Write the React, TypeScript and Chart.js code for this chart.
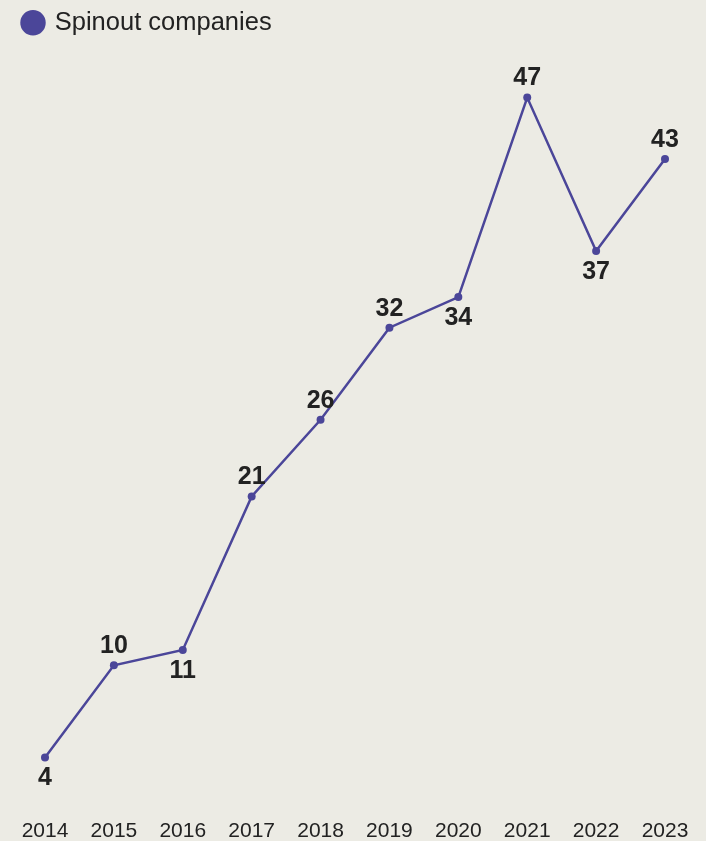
import React, { useEffect, useRef } from "react";
import { Chart, registerables } from "chart.js";

Chart.register(...registerables);

const years = ["2014", "2015", "2016", "2017", "2018", "2019", "2020", "2021", "2022", "2023"];
const spinouts = [4, 10, 11, 21, 26, 32, 34, 47, 37, 43];
// label placement: true = above the point, false = below
const labelAbove = [false, true, false, true, true, true, false, true, false, true];

const LINE_COLOR = "#4B4699";
const TEXT_COLOR = "#222222";
const BG = "#ECEBE4";
const FONT = "'Liberation Sans', Arial, sans-serif";

const valueLabels = {
  id: "valueLabels",
  afterDatasetsDraw(chart: any) {
    const ctx = chart.ctx;
    const meta = chart.getDatasetMeta(0);
    ctx.save();
    ctx.fillStyle = TEXT_COLOR;
    ctx.font = `bold 25px ${FONT}`;
    ctx.textAlign = "center";
    ctx.textBaseline = "middle";
    meta.data.forEach((pt: any, i: number) => {
      const v = chart.data.datasets[0].data[i];
      const dy = labelAbove[i] ? -19 : 21;
      ctx.fillText(String(v), pt.x, pt.y + dy);
    });
    ctx.restore();
  },
};

const legendSpacing = {
  id: "legendSpacing",
  beforeInit(chart: any) {
    const legend = chart.legend;
    if (!legend) return;
    const origFit = legend.fit;
    legend.fit = function () {
      origFit.call(this);
      this.height += 6;
    };
  },
};

export default function App() {
  const ref = useRef<HTMLCanvasElement | null>(null);

  useEffect(() => {
    document.body.style.margin = "0";
    document.body.style.background = BG;
    if (!ref.current) return;
    const chart = new Chart(ref.current, {
      type: "line",
      data: {
        labels: years,
        datasets: [
          {
            label: "Spinout companies",
            data: spinouts,
            borderColor: LINE_COLOR,
            backgroundColor: LINE_COLOR,
            borderWidth: 2.5,
            pointRadius: 4,
            pointBorderWidth: 0,
            pointBackgroundColor: LINE_COLOR,
            tension: 0,
          },
        ],
      },
      options: {
        responsive: false,
        animation: false,
        layout: { padding: { left: 14, right: 41, top: 0, bottom: -3 } },
        plugins: {
          legend: {
            position: "top",
            align: "start",
            labels: {
              usePointStyle: true,
              pointStyle: "circle",
              boxWidth: 18,
              boxHeight: 18,
              padding: 10,
              color: TEXT_COLOR,
              font: { family: FONT, size: 25.5 },
            },
          },
          tooltip: { enabled: false },
        },
        scales: {
          x: {
            grid: { display: false, drawTicks: false },
            border: { display: false },
            ticks: {
              color: TEXT_COLOR,
              font: { family: FONT, size: 21 },
              padding: 0,
              maxRotation: 0,
              autoSkip: false,
            },
          },
          y: {
            display: true,
            min: 0,
            max: 50,
            grid: { display: false, drawTicks: false },
            border: { display: false },
            ticks: { display: false },
            afterFit(scale: any) {
              scale.width = 31;
            },
          },
        },
      },
      plugins: [valueLabels, legendSpacing],
    });
    return () => chart.destroy();
  }, []);

  return (
    <div style={{ width: 706, height: 841, background: BG }}>
      <canvas ref={ref} width={706} height={841} />
    </div>
  );
}
